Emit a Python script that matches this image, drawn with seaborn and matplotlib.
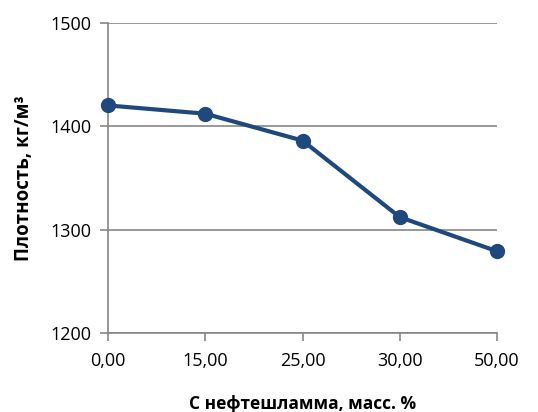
import pandas as pd
import seaborn as sns
import matplotlib.pyplot as plt

# data
conc_labels = ['0,00', '15,00', '25,00', '30,00', '50,00']
density = [1420, 1412, 1386, 1312, 1279]
y_ticks = [1200, 1300, 1400, 1500]

data = pd.DataFrame({'conc': conc_labels, 'density': density})

sns.set_style('white')
plt.rcParams['font.family'] = ['Open Sans', 'DejaVu Sans']

fig = plt.figure(figsize=(5.38, 4.12), dpi=100)
ax = fig.add_axes([0.2007, 0.1917, 0.7233, 0.7533])

sns.lineplot(data=data, x='conc', y='density', color='#1F497D', linewidth=3,
             marker='o', markersize=11, markeredgewidth=0, ax=ax, zorder=3,
             clip_on=False)

ax.set_xlim(0, len(conc_labels) - 1)
ax.set_ylim(1200, 1500)
ax.set_yticks(y_ticks)
ax.yaxis.grid(True, color='#868686', linewidth=1.2)
ax.set_axisbelow(True)

for side in ['top', 'right']:
    ax.spines[side].set_visible(False)
for side in ['left', 'bottom']:
    ax.spines[side].set_color('#868686')
    ax.spines[side].set_linewidth(1.2)

ax.tick_params(axis='both', which='both', direction='out', length=6,
               width=1.2, color='#868686', labelsize=13, labelcolor='black',
               bottom=True, left=True)
ax.tick_params(axis='x', pad=8)
ax.tick_params(axis='y', pad=6)

ax.set_xlabel('С нефтешламма, масс. %', fontsize=12.5, fontweight='bold',
              labelpad=18, color='black')
ax.set_ylabel('Плотность, кг/м³', fontsize=13.5, fontweight='bold',
              labelpad=12, color='black')

plt.savefig('out.png', dpi=100)
plt.close()
